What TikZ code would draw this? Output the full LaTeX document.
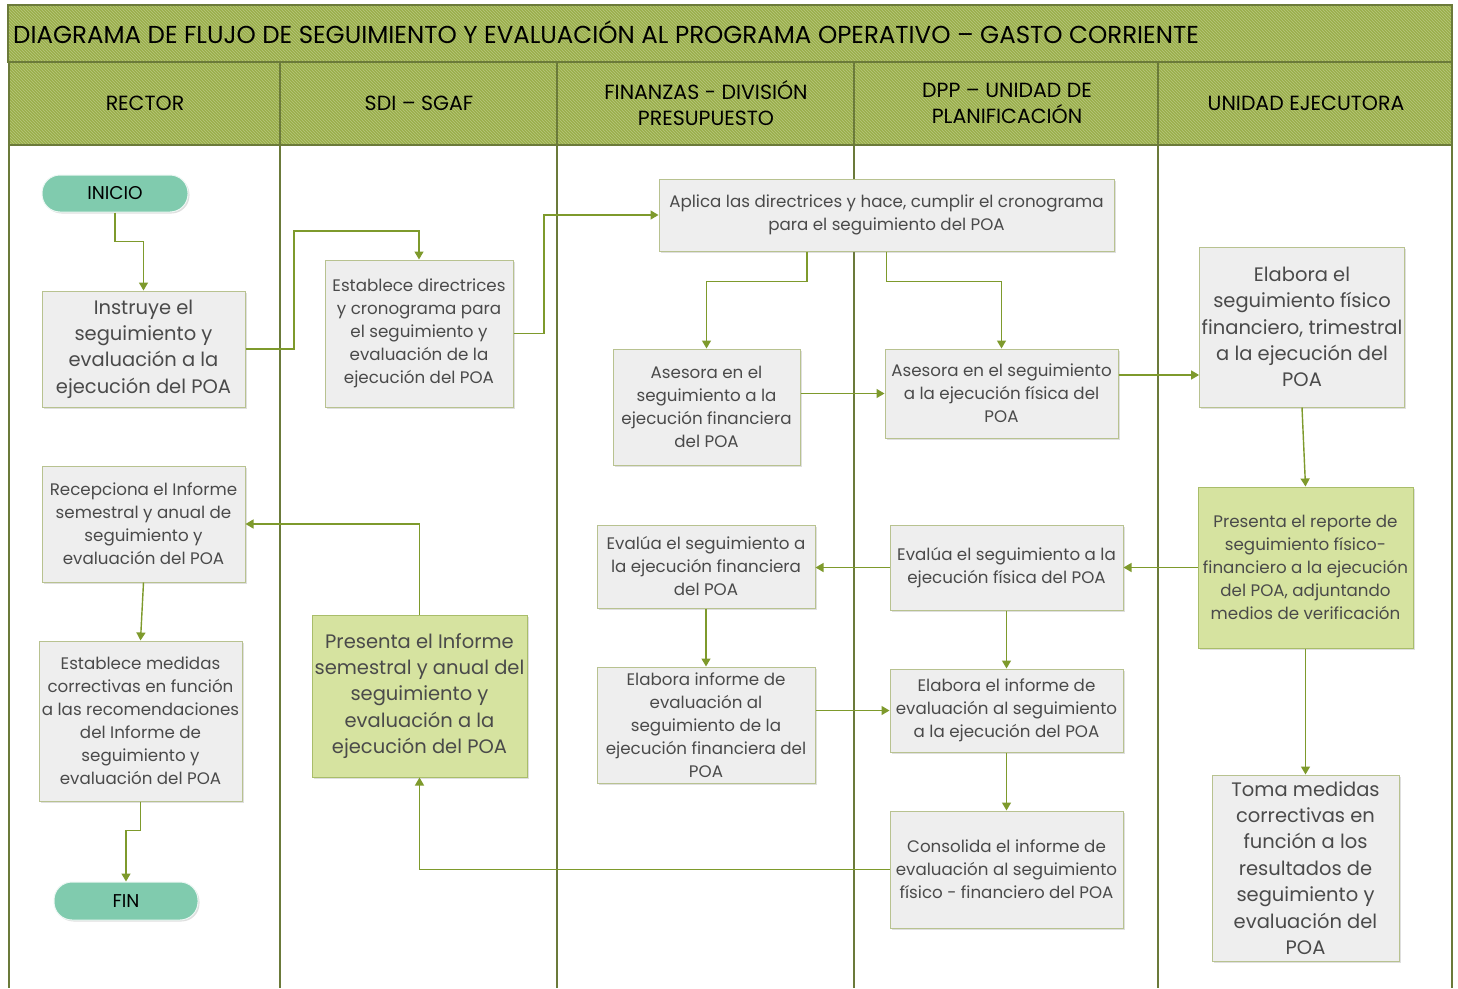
\documentclass[tikz,border=0pt]{standalone}
\usepackage{fontspec}
\setmainfont{Poppins}
\usetikzlibrary{arrows.meta,shadows,patterns,calc}
\definecolor{hdr}{HTML}{9AAF4A}
\definecolor{hdrline}{HTML}{6B7A3A}
\definecolor{boxfill}{HTML}{EEEEEE}
\definecolor{boxline}{HTML}{B8C290}
\definecolor{grnfill}{HTML}{D6E3A0}
\definecolor{grnline}{HTML}{A9BD6A}
\definecolor{conn}{HTML}{7E9A2C}
\definecolor{pill}{HTML}{80CBAE}
\definecolor{txt}{HTML}{4A4A4A}
\tikzset{
  every node/.style={inner sep=2pt},
  procbox/.style={draw=boxline, line width=1pt, fill=boxfill, align=center, text=txt,
     font=\fontsize{16.7}{23}\selectfont,
     drop shadow={opacity=0.25, shadow xshift=1.5pt, shadow yshift=-1.5pt}},
  bigtext/.style={font=\fontsize{19.5}{26.4}\selectfont},
  grnbox/.style={procbox, draw=grnline, fill=grnfill},
  pillbox/.style={draw=white!85!pill, line width=1pt, fill=pill, rounded corners=18pt,
     font=\fontsize{18.5}{22}\selectfont, text=black,
     drop shadow={opacity=0.25, shadow xshift=1.5pt, shadow yshift=-1.5pt}},
  arr/.style={draw=conn, line width=1.4pt, -{Triangle[width=9pt,length=8pt]}},
  hdrtext/.style={font=\fontsize{20.5}{26}\selectfont, text=black, align=center},
  sep/.style={draw=hdrline, line width=2.5pt},
}
\begin{document}
\begin{tikzpicture}[x=1pt,y=-1pt]
\useasboundingbox (0,0) rectangle (1458,988);
% header bars
\fill[hdr] (8,5) rectangle (1452,145);
\fill[pattern=north west lines, pattern color=white!30!hdr] (8,5) rectangle (1452,145);
\draw[hdrline, line width=2.5pt] (8,5) rectangle (1452,62);
\draw[hdrline, line width=2.5pt] (8,62) -- (1452,62);
\draw[hdrline, line width=2.5pt] (8,145) -- (1452,145);
% lane separators
\draw[sep] (9,62) -- (9,988);
\draw[sep] (1452,62) -- (1452,988);
\draw[sep] (280,62) -- (280,988);
\draw[sep] (557,62) -- (557,988);
\draw[hdrline, line width=1.2pt] (854,62) -- (854,988);
\draw[sep] (1158,62) -- (1158,988);
% titles
\node[font=\fontsize{24.5}{28}\selectfont, anchor=west, text=black] (title) at (11,32) {DIAGRAMA DE FLUJO DE SEGUIMIENTO Y EVALUACIÓN AL PROGRAMA OPERATIVO – GASTO CORRIENTE};
\node[hdrtext] (h1) at (145,103) {RECTOR};
\node[hdrtext] (h2) at (419,103) {SDI – SGAF};
\node[hdrtext] (h3) at (706,103) {FINANZAS - DIVISIÓN\\PRESUPUESTO};
\node[hdrtext] (h4) at (1007,103) {DPP – UNIDAD DE\\PLANIFICACIÓN};
\node[hdrtext] (h5) at (1306,103) {UNIDAD EJECUTORA};

% nodes
\node[pillbox, minimum width=146pt, minimum height=37pt] (inicio) at (115,193.5) {INICIO};
\node[procbox, bigtext, minimum width=203pt, minimum height=116pt] (instruye) at (143.5,349) {Instruye el\\seguimiento y\\evaluación a la\\ejecución del POA};
\node[procbox, minimum width=188pt, minimum height=147pt] (estab) at (419,333.5) {Establece directrices\\y cronograma para\\el seguimiento y\\evaluación de la\\ejecución del POA};
\node[procbox, minimum width=455pt, minimum height=72pt] (aplica) at (886.5,215) {Aplica las directrices y hace, cumplir el cronograma\\para el seguimiento del POA};
\node[procbox, minimum width=187pt, minimum height=116pt] (asefin) at (706.5,407) {Asesora en el\\seguimiento a la\\ejecución financiera\\del POA};
\node[procbox, minimum width=233pt, minimum height=89pt] (asefis) at (1001.5,393.5) {Asesora en el seguimiento\\a la ejecución física del\\POA};
\node[procbox, bigtext, minimum width=202pt, minimum height=160pt] (elabseg) at (1302,327) {Elabora el\\seguimiento físico\\financiero, trimestral\\a la ejecución del\\POA};
\node[grnbox, minimum width=215pt, minimum height=161pt] (presrep) at (1305.5,567.5) {Presenta el reporte de\\seguimiento físico-\\financiero a la ejecución\\del POA, adjuntando\\medios de verificación};
\node[procbox, minimum width=233pt, minimum height=85pt] (evafis) at (1006.5,567.5) {Evalúa el seguimiento a la\\ejecución física del POA};
\node[procbox, minimum width=218pt, minimum height=83pt] (evafin) at (706,566.5) {Evalúa el seguimiento a\\la ejecución financiera\\del POA};
\node[procbox, minimum width=218pt, minimum height=116pt] (elabfin) at (706,725) {Elabora informe de\\evaluación al\\seguimiento de la\\ejecución financiera del\\POA};
\node[procbox, minimum width=233pt, minimum height=83pt] (elabpoa) at (1006.5,710.5) {Elabora el informe de\\evaluación al seguimiento\\a la ejecución del POA};
\node[procbox, minimum width=233pt, minimum height=117pt] (consol) at (1006.5,869.5) {Consolida el informe de\\evaluación al seguimiento\\físico - financiero del POA};
\node[grnbox, bigtext, minimum width=215pt, minimum height=162pt] (presinf) at (419.5,696) {Presenta el Informe\\semestral y anual del\\seguimiento y\\evaluación a la\\ejecución del POA};
\node[procbox, minimum width=203pt, minimum height=116pt] (recep) at (143.5,524) {Recepciona el Informe\\semestral y anual de\\seguimiento y\\evaluación del POA};
\node[procbox, minimum width=203pt, minimum height=160pt] (estmed) at (140.5,721) {Establece medidas\\correctivas en función\\a las recomendaciones\\del Informe de\\seguimiento y\\evaluación del POA};
\node[pillbox, minimum width=144pt, minimum height=38pt] (fin) at (126,901) {FIN};
\node[procbox, bigtext, minimum width=187pt, minimum height=186pt] (toma) at (1305.5,868) {Toma medidas\\correctivas en\\función a los\\resultados de\\seguimiento y\\evaluación del\\POA};

% connectors
\draw[arr] (inicio.south) -- ++(0,29) -| (instruye.north);
\draw[arr] (instruye.east) -| (294,231) -| (estab.north);
\draw[arr] (estab.east) -| (544,215) -- (aplica.west);
\draw[arr] ([xshift=-79.5pt]aplica.south) -- ++(0,30) -| (asefin.north);
\draw[arr] (aplica.south) -- ++(0,30) -| (asefis.north);
\draw[arr] (asefin.east |- asefis.west) -- (asefis.west);
\draw[arr] ([yshift=18.5pt]asefis.east) coordinate (a7) -- (a7 -| elabseg.west);
\draw[arr] (elabseg.south) -- (presrep.north);
\draw[arr] (presrep.west) -- (evafis.east);
\draw[arr] (evafis.west) -- (evafis.west -| evafin.east);
\draw[arr] (evafin.south) -- (elabfin.north);
\draw[arr] (elabfin.east |- elabpoa.west) -- (elabpoa.west);
\draw[arr] (evafis.south) -- (elabpoa.north);
\draw[arr] (elabpoa.south) -- (consol.north);
\draw[arr] (consol.west) -| (presinf.south);
\draw[arr] (presinf.north) |- (recep.east);
\draw[arr] (recep.south) -- (estmed.north);
\draw[arr] (estmed.south) -- ++(0,29) -| (fin.north);
\draw[arr] (presrep.south) -- (toma.north);
\end{tikzpicture}
\end{document}
